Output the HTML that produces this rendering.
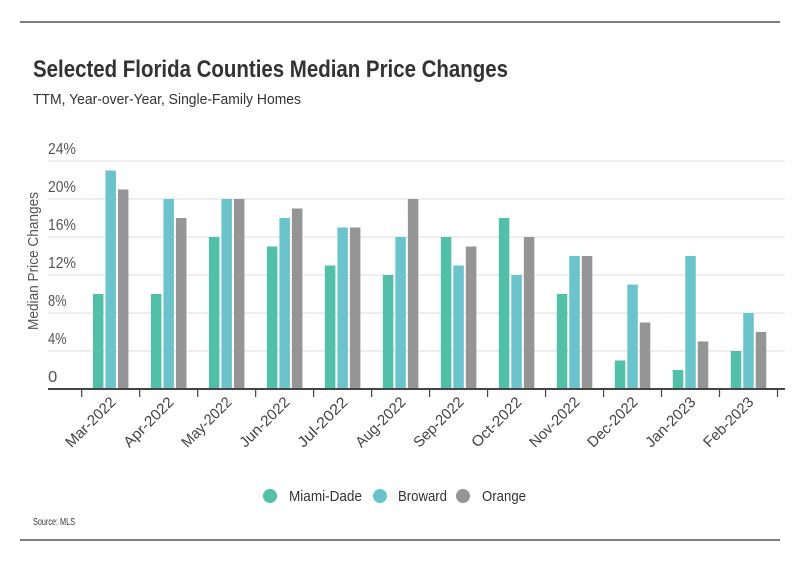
<!DOCTYPE html>
<html><head><meta charset="utf-8"><style>
body{margin:0;background:#fff}
svg{display:block;font-family:"Liberation Sans Narrow","Liberation Sans",sans-serif}
</style></head><body>
<svg id="c" width="798" height="575" viewBox="0 0 798 575">
<line x1="20" y1="22" x2="780" y2="22" stroke="#333" stroke-width="1.2"/>
<text x="33" y="77" font-size="24" font-weight="bold" fill="#333" textLength="475" lengthAdjust="spacingAndGlyphs">Selected Florida Counties Median Price Changes</text>
<text x="33" y="104" font-size="15" fill="#333" textLength="268" lengthAdjust="spacingAndGlyphs">TTM, Year-over-Year, Single-Family Homes</text>
<text transform="translate(38,261) rotate(-90)" text-anchor="middle" font-size="15" fill="#555" textLength="138" lengthAdjust="spacingAndGlyphs">Median Price Changes</text>
<g id="grid"></g><g id="bars"></g><g id="xaxis"></g>
<g>
<circle cx="270" cy="496" r="7" fill="#52bfa8"/>
<text x="289" y="501" font-size="15" fill="#333" textLength="73" lengthAdjust="spacingAndGlyphs">Miami-Dade</text>
<circle cx="380" cy="496" r="7" fill="#6bc3cc"/>
<text x="398" y="501" font-size="15" fill="#333" textLength="49" lengthAdjust="spacingAndGlyphs">Broward</text>
<circle cx="463" cy="496" r="7" fill="#959595"/>
<text x="482" y="501" font-size="15" fill="#333" textLength="44" lengthAdjust="spacingAndGlyphs">Orange</text>
</g>
<text x="33" y="525" font-size="10" fill="#333" textLength="42" lengthAdjust="spacingAndGlyphs">Source: MLS</text>
<line x1="20" y1="540" x2="780" y2="540" stroke="#333" stroke-width="1.2"/>
</svg>
<script>
const categories=["Mar-2022","Apr-2022","May-2022","Jun-2022","Jul-2022","Aug-2022","Sep-2022","Oct-2022","Nov-2022","Dec-2022","Jan-2023","Feb-2023"];
const miamiDade=[10,10,16,15,13,12,16,18,10,3,2,4];
const broward=[23,20,20,18,17,16,13,12,14,11,14,8];
const orange=[21,18,20,19,17,20,15,16,14,7,5,6];
const yTicks=[0,4,8,12,16,20,24];
const yTickLabels=["0","4%","8%","12%","16%","20%","24%"];
const NS="http://www.w3.org/2000/svg";
const y0=389,pxPer=9.5,x0=81.7,band=(777.5-81.7)/12;
const y=v=>y0-v*pxPer;
const xc=i=>x0+band*(i+0.5);
function mk(t,a,p){const e=document.createElementNS(NS,t);for(const k in a)e.setAttribute(k,a[k]);p.appendChild(e);return e;}
const grid=document.getElementById('grid'),bars=document.getElementById('bars'),xa=document.getElementById('xaxis');
yTicks.forEach((v,i)=>{
 if(v>0){const l=mk('line',{x1:48,x2:785,y1:y(v),y2:y(v),stroke:'#dcdcdc','stroke-width':1},grid);
 
 }
 const t=mk('text',{x:48,y:y(v)-7,'font-size':16,fill:'#555',textLength:yTickLabels[i].length*9.3,lengthAdjust:'spacingAndGlyphs'},grid);t.textContent=yTickLabels[i];
 
 
});
const series=[[miamiDade,'#52bfa8','miami-dade'],[broward,'#6bc3cc','broward'],[orange,'#959595','orange']];
const bw=10.5,gap=2;
categories.forEach((c,i)=>{
 series.forEach((s,j)=>{
  const x=xc(i)+(j-1)*(bw+gap)-bw/2;
  const r=mk('rect',{x:x,y:y(s[0][i]),width:bw,height:y0-y(s[0][i]),fill:s[1]},bars);
  
  
 });
 const t=mk('text',{transform:`translate(${xc(i)+6},${y0+14}) rotate(-45)`,'text-anchor':'end','font-size':15,fill:'#444',textLength:64,lengthAdjust:'spacingAndGlyphs'},xa);
 t.textContent=c;
 
 
});
for(let k=0;k<=12;k++){const l=mk('line',{x1:x0+band*k,x2:x0+band*k,y1:y0,y2:y0+8,stroke:'#444','stroke-width':1.2},xa);
 
 }
const ax=mk('line',{x1:48,x2:785,y1:y0,y2:y0,stroke:'#444','stroke-width':2},xa);


</script>
</body></html>
